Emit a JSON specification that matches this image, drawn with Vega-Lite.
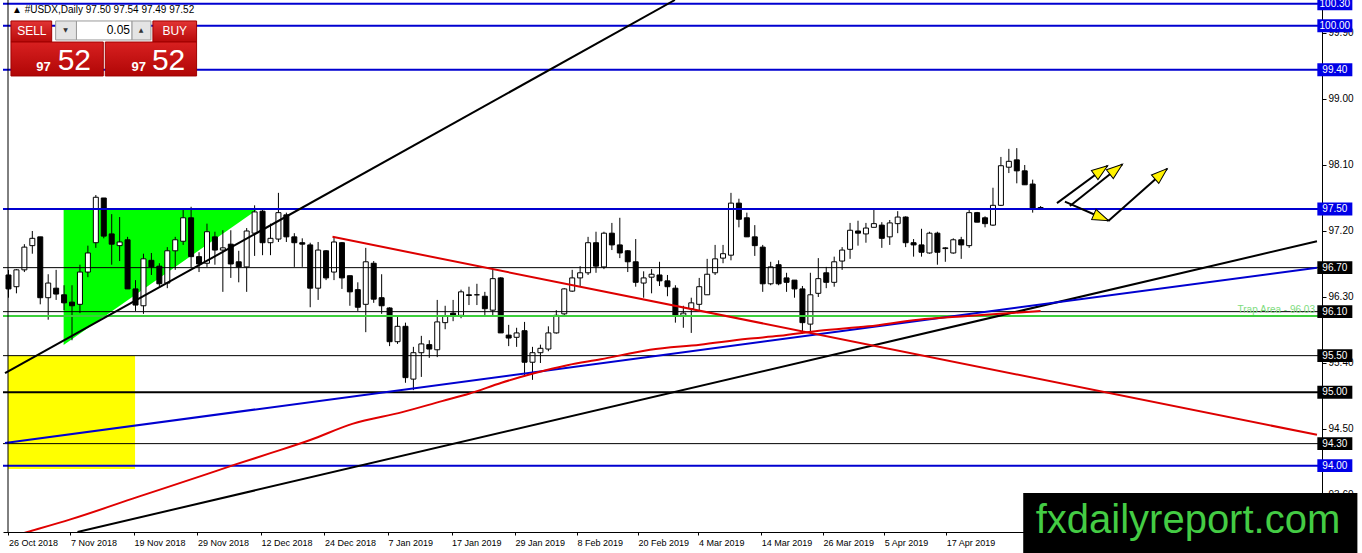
{
"$schema": "https://vega.github.io/schema/vega-lite/v6.json",
"width": 1319,
"height": 532,
"autosize": {"type": "none"},
"padding": {"left": 3, "top": 0, "right": 40, "bottom": 21},
"background": "#ffffff",
"config": {"view": {"stroke": null}, "font": "Liberation Sans"},
"datasets": {
"candles": [
{"i":0,"o":96.60,"h":96.67,"l":96.29,"c":96.41},
{"i":1,"o":96.44,"h":96.68,"l":96.35,"c":96.67},
{"i":2,"o":96.67,"h":97.02,"l":96.64,"c":96.98},
{"i":3,"o":97.00,"h":97.20,"l":96.89,"c":97.10},
{"i":4,"o":97.12,"h":97.12,"l":96.20,"c":96.29},
{"i":5,"o":96.29,"h":96.61,"l":95.99,"c":96.49},
{"i":6,"o":96.42,"h":96.67,"l":96.26,"c":96.34},
{"i":7,"o":96.33,"h":96.46,"l":96.12,"c":96.22},
{"i":8,"o":96.23,"h":96.46,"l":95.71,"c":96.18},
{"i":9,"o":96.20,"h":96.74,"l":96.08,"c":96.64},
{"i":10,"o":96.64,"h":97.00,"l":96.57,"c":96.90},
{"i":11,"o":97.04,"h":97.69,"l":96.97,"c":97.66},
{"i":12,"o":97.65,"h":97.65,"l":97.10,"c":97.13},
{"i":13,"o":97.16,"h":97.43,"l":96.74,"c":97.02},
{"i":14,"o":97.00,"h":97.39,"l":96.79,"c":97.05},
{"i":15,"o":97.08,"h":97.12,"l":96.41,"c":96.41},
{"i":16,"o":96.41,"h":96.53,"l":96.11,"c":96.19},
{"i":17,"o":96.18,"h":96.89,"l":96.07,"c":96.82},
{"i":18,"o":96.80,"h":96.90,"l":96.60,"c":96.71},
{"i":19,"o":96.72,"h":96.76,"l":96.44,"c":96.48},
{"i":20,"o":96.49,"h":96.98,"l":96.42,"c":96.93},
{"i":21,"o":96.93,"h":97.12,"l":96.67,"c":97.08},
{"i":22,"o":97.06,"h":97.50,"l":97.01,"c":97.38},
{"i":23,"o":97.38,"h":97.53,"l":96.70,"c":96.85},
{"i":24,"o":96.85,"h":96.91,"l":96.64,"c":96.75},
{"i":25,"o":96.76,"h":97.30,"l":96.71,"c":97.19},
{"i":26,"o":97.12,"h":97.19,"l":96.74,"c":96.94},
{"i":27,"o":96.94,"h":97.21,"l":96.37,"c":96.97},
{"i":28,"o":97.02,"h":97.21,"l":96.56,"c":96.75},
{"i":29,"o":96.78,"h":96.93,"l":96.50,"c":96.71},
{"i":30,"o":96.71,"h":97.24,"l":96.37,"c":97.20},
{"i":31,"o":97.17,"h":97.55,"l":96.86,"c":97.46},
{"i":32,"o":97.47,"h":97.51,"l":96.87,"c":97.04},
{"i":33,"o":97.04,"h":97.30,"l":96.87,"c":97.10},
{"i":34,"o":97.09,"h":97.72,"l":97.05,"c":97.45},
{"i":35,"o":97.42,"h":97.45,"l":97.05,"c":97.12},
{"i":36,"o":97.12,"h":97.17,"l":96.71,"c":97.04},
{"i":37,"o":97.04,"h":97.10,"l":96.71,"c":97.02},
{"i":38,"o":97.01,"h":97.04,"l":96.16,"c":96.42},
{"i":39,"o":96.42,"h":97.05,"l":96.26,"c":96.94},
{"i":40,"o":96.93,"h":96.94,"l":96.53,"c":96.56},
{"i":41,"o":96.64,"h":97.12,"l":96.53,"c":97.05},
{"i":42,"o":97.04,"h":97.05,"l":96.41,"c":96.56},
{"i":43,"o":96.59,"h":96.59,"l":96.18,"c":96.37},
{"i":44,"o":96.40,"h":96.50,"l":96.11,"c":96.16},
{"i":45,"o":96.20,"h":96.97,"l":95.82,"c":96.78},
{"i":46,"o":96.76,"h":96.79,"l":96.22,"c":96.27},
{"i":47,"o":96.29,"h":96.61,"l":96.07,"c":96.18},
{"i":48,"o":96.15,"h":96.16,"l":95.63,"c":95.69},
{"i":49,"o":95.69,"h":96.03,"l":95.66,"c":95.90},
{"i":50,"o":95.90,"h":95.95,"l":95.13,"c":95.20},
{"i":51,"o":95.18,"h":95.62,"l":95.03,"c":95.54},
{"i":52,"o":95.54,"h":95.77,"l":95.21,"c":95.66},
{"i":53,"o":95.65,"h":95.71,"l":95.47,"c":95.59},
{"i":54,"o":95.58,"h":96.26,"l":95.48,"c":95.96},
{"i":55,"o":95.95,"h":96.18,"l":95.86,"c":96.04},
{"i":56,"o":96.08,"h":96.26,"l":95.97,"c":96.05},
{"i":57,"o":96.05,"h":96.40,"l":96.01,"c":96.37},
{"i":58,"o":96.33,"h":96.44,"l":96.19,"c":96.32},
{"i":59,"o":96.33,"h":96.48,"l":96.19,"c":96.33},
{"i":60,"o":96.31,"h":96.37,"l":96.05,"c":96.14},
{"i":61,"o":96.12,"h":96.68,"l":96.05,"c":96.55},
{"i":62,"o":96.56,"h":96.57,"l":95.81,"c":95.81},
{"i":63,"o":95.78,"h":95.92,"l":95.63,"c":95.74},
{"i":64,"o":95.75,"h":95.88,"l":95.62,"c":95.81},
{"i":65,"o":95.84,"h":95.96,"l":95.21,"c":95.41},
{"i":66,"o":95.41,"h":95.62,"l":95.17,"c":95.54},
{"i":67,"o":95.54,"h":95.65,"l":95.40,"c":95.60},
{"i":68,"o":95.59,"h":95.90,"l":95.56,"c":95.81},
{"i":69,"o":95.81,"h":96.12,"l":95.80,"c":96.05},
{"i":70,"o":96.07,"h":96.42,"l":96.05,"c":96.41},
{"i":71,"o":96.38,"h":96.67,"l":96.37,"c":96.56},
{"i":72,"o":96.56,"h":96.72,"l":96.45,"c":96.63},
{"i":73,"o":96.63,"h":97.12,"l":96.60,"c":97.04},
{"i":74,"o":97.04,"h":97.19,"l":96.63,"c":96.72},
{"i":75,"o":96.71,"h":97.19,"l":96.68,"c":97.17},
{"i":76,"o":97.17,"h":97.31,"l":96.94,"c":97.01},
{"i":77,"o":97.01,"h":97.38,"l":96.83,"c":96.90},
{"i":78,"o":96.93,"h":96.94,"l":96.64,"c":96.78},
{"i":79,"o":96.78,"h":97.09,"l":96.44,"c":96.50},
{"i":80,"o":96.49,"h":96.65,"l":96.29,"c":96.56},
{"i":81,"o":96.57,"h":96.68,"l":96.35,"c":96.61},
{"i":82,"o":96.60,"h":96.78,"l":96.45,"c":96.52},
{"i":83,"o":96.52,"h":96.60,"l":96.31,"c":96.44},
{"i":84,"o":96.42,"h":96.46,"l":95.95,"c":96.05},
{"i":85,"o":96.05,"h":96.18,"l":95.88,"c":96.08},
{"i":86,"o":96.14,"h":96.29,"l":95.81,"c":96.22},
{"i":87,"o":96.20,"h":96.56,"l":96.11,"c":96.44},
{"i":88,"o":96.33,"h":96.82,"l":96.33,"c":96.61},
{"i":89,"o":96.63,"h":97.01,"l":96.60,"c":96.82},
{"i":90,"o":96.83,"h":97.01,"l":96.76,"c":96.89},
{"i":91,"o":96.87,"h":97.72,"l":96.80,"c":97.58},
{"i":92,"o":97.58,"h":97.64,"l":97.25,"c":97.36},
{"i":93,"o":97.38,"h":97.45,"l":97.12,"c":97.12},
{"i":94,"o":97.12,"h":97.28,"l":96.86,"c":97.00},
{"i":95,"o":96.98,"h":97.01,"l":96.37,"c":96.48},
{"i":96,"o":96.48,"h":96.78,"l":96.46,"c":96.71},
{"i":97,"o":96.74,"h":96.80,"l":96.46,"c":96.48},
{"i":98,"o":96.56,"h":96.63,"l":96.37,"c":96.50},
{"i":99,"o":96.53,"h":96.53,"l":96.29,"c":96.41},
{"i":100,"o":96.41,"h":96.45,"l":95.80,"c":95.95},
{"i":101,"o":95.93,"h":96.63,"l":95.81,"c":96.33},
{"i":102,"o":96.35,"h":96.83,"l":96.30,"c":96.55},
{"i":103,"o":96.63,"h":96.71,"l":96.42,"c":96.50},
{"i":104,"o":96.50,"h":96.85,"l":96.44,"c":96.78},
{"i":105,"o":96.79,"h":96.98,"l":96.67,"c":96.94},
{"i":106,"o":96.95,"h":97.31,"l":96.82,"c":97.21},
{"i":107,"o":97.20,"h":97.34,"l":97.00,"c":97.17},
{"i":108,"o":97.16,"h":97.31,"l":97.04,"c":97.24},
{"i":109,"o":97.25,"h":97.51,"l":97.25,"c":97.30},
{"i":110,"o":97.28,"h":97.32,"l":96.97,"c":97.10},
{"i":111,"o":97.12,"h":97.35,"l":97.01,"c":97.31},
{"i":112,"o":97.30,"h":97.47,"l":97.17,"c":97.39},
{"i":113,"o":97.39,"h":97.40,"l":96.98,"c":97.04},
{"i":114,"o":97.04,"h":97.09,"l":96.85,"c":97.01},
{"i":115,"o":97.01,"h":97.23,"l":96.85,"c":96.91},
{"i":116,"o":96.90,"h":97.19,"l":96.89,"c":97.17},
{"i":117,"o":97.17,"h":97.19,"l":96.74,"c":96.91},
{"i":118,"o":96.96,"h":96.98,"l":96.78,"c":96.97},
{"i":119,"o":96.90,"h":97.10,"l":96.89,"c":97.08},
{"i":120,"o":97.08,"h":97.12,"l":96.82,"c":97.01},
{"i":121,"o":97.00,"h":97.49,"l":96.97,"c":97.45},
{"i":122,"o":97.45,"h":97.46,"l":97.32,"c":97.32},
{"i":123,"o":97.38,"h":97.40,"l":97.25,"c":97.30},
{"i":124,"o":97.28,"h":97.79,"l":97.27,"c":97.55},
{"i":125,"o":97.55,"h":98.21,"l":97.54,"c":98.09},
{"i":126,"o":98.07,"h":98.32,"l":97.99,"c":98.15},
{"i":127,"o":98.17,"h":98.33,"l":97.85,"c":98.02},
{"i":128,"o":98.02,"h":98.10,"l":97.83,"c":97.83},
{"i":129,"o":97.84,"h":97.90,"l":97.45,"c":97.51},
{"i":130,"o":97.50,"h":97.54,"l":97.49,"c":97.52}
],
"levels": [
{"p":100.30,"k":"blue"},{"p":100.00,"k":"blue"},{"p":99.40,"k":"blue"},{"p":97.50,"k":"blue"},
{"p":96.70,"k":"black"},{"p":96.10,"k":"black"},{"p":95.50,"k":"black"},{"p":95.00,"k":"black2"},
{"p":94.30,"k":"black"},{"p":94.00,"k":"blue"},{"p":96.04,"k":"green"}
],
"trends": [
{"x1":-0.44,"y1":95.26,"x2":83.94,"y2":100.35,"k":"black2"},
{"x1":8.69,"y1":93.095,"x2":164.81,"y2":97.06,"k":"black2"},
{"x1":-0.44,"y1":94.31,"x2":164.81,"y2":96.70,"k":"blue"},
{"x1":40.81,"y1":97.12,"x2":164.81,"y2":94.42,"k":"red"}
],
"ma": [
{"i":0,"p":93.02},{"i":2.4,"p":93.095},{"i":7.9,"p":93.27},{"i":16.2,"p":93.57},{"i":24.6,"p":93.87},
{"i":28.7,"p":94.02},{"i":33,"p":94.17},{"i":38,"p":94.35},{"i":43.3,"p":94.57},{"i":49.6,"p":94.73},
{"i":54.6,"p":94.88},{"i":58,"p":94.98},{"i":62.1,"p":95.13},{"i":66.2,"p":95.26},{"i":70.4,"p":95.37},
{"i":74.6,"p":95.45},{"i":80.8,"p":95.58},{"i":87.1,"p":95.65},{"i":93.1,"p":95.73},{"i":97.1,"p":95.77},
{"i":102.1,"p":95.84},{"i":108.3,"p":95.90},{"i":114.6,"p":95.99},{"i":120.8,"p":96.04},{"i":130,"p":96.11}
],
"arrows": [
{"n":"A","x1":132.06,"y1":97.58,"x2":138.44,"y2":98.09},
{"n":"B","x1":133.69,"y1":97.54,"x2":140.31,"y2":98.11},
{"n":"C","x1":133.06,"y1":97.60,"x2":138.56,"y2":97.34},
{"n":"D","x1":138.56,"y1":97.34,"x2":145.94,"y2":98.05}
],
"triangle": [
{"i":6.94,"t":97.50,"b":95.645},
{"i":31.44,"t":97.50,"b":97.50}
]
},
"layer": [
{
"data": {"name": "candles"},
"mark": {"type": "rule", "color": "#000000", "strokeWidth": 1, "clip": true, "opacity": 0},
"encoding": {
"x": {"field": "i", "type": "quantitative", "scale": {"domain": [-0.0625, 164.8125], "nice": false, "zero": false},
"axis": {"orient": "bottom", "title": null, "grid": false,
"values": [0, 7.8, 15.8, 23.8, 31.8, 39.8, 47.8, 55.8, 63.8, 71.6, 79.3, 86.9, 94.8, 102.6, 110.3, 118.1],
"labelExpr": "datum.value < 4 ? '26 Oct 2018' : datum.value < 12 ? '7 Nov 2018' : datum.value < 20 ? '19 Nov 2018' : datum.value < 28 ? '29 Nov 2018' : datum.value < 36 ? '12 Dec 2018' : datum.value < 44 ? '24 Dec 2018' : datum.value < 52 ? '7 Jan 2019' : datum.value < 60 ? '17 Jan 2019' : datum.value < 68 ? '29 Jan 2019' : datum.value < 76 ? '8 Feb 2019' : datum.value < 83 ? '20 Feb 2019' : datum.value < 91 ? '4 Mar 2019' : datum.value < 99 ? '14 Mar 2019' : datum.value < 106 ? '26 Mar 2019' : datum.value < 114 ? '5 Apr 2019' : '17 Apr 2019'",
"domainColor": "#000000", "tickColor": "#000000", "tickSize": 3, "labelAlign": "left", "labelPadding": 3,
"labelFont": "Liberation Sans", "labelFontSize": 9, "labelColor": "#000000", "labelFlush": false, "labelOverlap": false}},
"y": {"field": "l", "type": "quantitative", "scale": {"domain": [93.095, 100.35], "nice": false, "zero": false},
"axis": {"orient": "right", "title": null, "grid": false,
"values": [99.90, 99.45, 99.00, 98.55, 98.10, 97.65, 97.20, 96.75, 96.30, 95.85, 95.40, 94.95, 94.50, 94.05, 93.60],
"format": ".2f", "domainColor": "#000000", "tickColor": "#000000", "tickSize": 4, "labelPadding": 2,
"labelFont": "Liberation Sans", "labelFontSize": 10, "labelColor": "#000000", "labelFlush": false, "labelOverlap": false}},
"y2": {"field": "h"}
}
},
{
"data": {"values": [{}]},
"mark": {"type": "rect", "fill": "#FFFF00"},
"encoding": {
"x": {"datum": -0.0625, "type": "quantitative"},
"x2": {"datum": 15.94},
"y": {"datum": 95.50, "type": "quantitative"},
"y2": {"datum": 93.954}
}
},
{
"data": {"name": "triangle"},
"mark": {"type": "area", "fill": "#00FF00", "opacity": 1},
"encoding": {
"x": {"field": "i", "type": "quantitative"},
"y": {"field": "t", "type": "quantitative"},
"y2": {"field": "b"}
}
},
{
"data": {"name": "candles"},
"mark": {"type": "rule", "color": "#000000", "strokeWidth": 1, "clip": true},
"encoding": {
"x": {"field": "i", "type": "quantitative"},
"y": {"field": "l", "type": "quantitative"},
"y2": {"field": "h"}
}
},
{
"data": {"name": "candles"},
"mark": {"type": "bar", "orient": "vertical", "size": 5, "stroke": "#000000", "strokeWidth": 1, "clip": true},
"encoding": {
"x": {"field": "i", "type": "quantitative"},
"y": {"field": "o", "type": "quantitative"},
"y2": {"field": "c"},
"fill": {"condition": {"test": "datum.c >= datum.o", "value": "#ffffff"}, "value": "#000000"}
}
},
{
"data": {"name": "levels"},
"mark": {"type": "rule"},
"encoding": {
"y": {"field": "p", "type": "quantitative"},
"color": {"field": "k", "type": "nominal", "legend": null, "scale": {"domain": ["blue", "black", "black2", "green", "red"], "range": ["#0000D0", "#000000", "#000000", "#3CCF3C", "#DD0000"]}},
"strokeWidth": {"condition": {"test": "datum.k == 'black'", "value": 1}, "value": 2}
}
},
{
"data": {"name": "trends"},
"mark": {"type": "rule", "clip": true, "strokeWidth": 2},
"encoding": {
"x": {"field": "x1", "type": "quantitative"},
"x2": {"field": "x2"},
"y": {"field": "y1", "type": "quantitative"},
"y2": {"field": "y2"},
"color": {"field": "k", "type": "nominal", "legend": null, "scale": {"domain": ["blue", "black", "black2", "green", "red"], "range": ["#0000D0", "#000000", "#000000", "#3CCF3C", "#DD0000"]}}
}
},
{
"data": {"name": "ma"},
"mark": {"type": "line", "color": "#E00000", "strokeWidth": 2, "clip": true, "interpolate": "monotone"},
"encoding": {
"x": {"field": "i", "type": "quantitative"},
"y": {"field": "p", "type": "quantitative"}
}
},
{
"data": {"values": [{}]},
"mark": {"type": "rule", "color": "#000000", "strokeWidth": 1},
"encoding": {
"x": {"datum": -0.0625, "type": "quantitative"}
}
},
{
"data": {"name": "arrows"},
"mark": {"type": "rule", "color": "#000000", "strokeWidth": 2},
"encoding": {
"x": {"field": "x1", "type": "quantitative"},
"x2": {"field": "x2"},
"y": {"field": "y1", "type": "quantitative"},
"y2": {"field": "y2"}
}
},
{
"data": {"name": "arrows"},
"transform": [{"filter": "datum.n == 'A'"}],
"mark": {"type": "point", "shape": "M0,0L-0.35,1L0.35,1Z", "size": 1024, "filled": true, "fill": "#FFF200", "stroke": "#000000", "strokeWidth": 1, "opacity": 1, "angle": 54},
"encoding": {
"x": {"field": "x2", "type": "quantitative"},
"y": {"field": "y2", "type": "quantitative"}
}
},
{
"data": {"name": "arrows"},
"transform": [{"filter": "datum.n == 'B'"}],
"mark": {"type": "point", "shape": "M0,0L-0.35,1L0.35,1Z", "size": 1024, "filled": true, "fill": "#FFF200", "stroke": "#000000", "strokeWidth": 1, "opacity": 1, "angle": 52},
"encoding": {
"x": {"field": "x2", "type": "quantitative"},
"y": {"field": "y2", "type": "quantitative"}
}
},
{
"data": {"name": "arrows"},
"transform": [{"filter": "datum.n == 'C'"}],
"mark": {"type": "point", "shape": "M0,0L-0.35,1L0.35,1Z", "size": 1024, "filled": true, "fill": "#FFF200", "stroke": "#000000", "strokeWidth": 1, "opacity": 1, "angle": 113},
"encoding": {
"x": {"field": "x2", "type": "quantitative"},
"y": {"field": "y2", "type": "quantitative"}
}
},
{
"data": {"name": "arrows"},
"transform": [{"filter": "datum.n == 'D'"}],
"mark": {"type": "point", "shape": "M0,0L-0.35,1L0.35,1Z", "size": 1024, "filled": true, "fill": "#FFF200", "stroke": "#000000", "strokeWidth": 1, "opacity": 1, "angle": 49},
"encoding": {
"x": {"field": "x2", "type": "quantitative"},
"y": {"field": "y2", "type": "quantitative"}
}
},
{
"data": {"name": "levels"},
"transform": [{"filter": "datum.k != 'green'"}],
"mark": {"type": "point", "shape": "M-1,-0.37H1V0.37H-1Z", "size": 1225, "filled": true, "opacity": 1, "strokeWidth": 0},
"encoding": {
"x": {"datum": 167.06, "type": "quantitative"},
"y": {"field": "p", "type": "quantitative"},
"fill": {"field": "k", "type": "nominal", "legend": null, "scale": {"domain": ["blue", "black", "black2"], "range": ["#0000E6", "#000000", "#000000"]}}
}
},
{
"data": {"name": "levels"},
"transform": [{"filter": "datum.k != 'green'"}],
"mark": {"type": "text", "color": "#ffffff", "fontSize": 10, "align": "center", "baseline": "middle", "font": "Liberation Sans"},
"encoding": {
"x": {"datum": 167.06, "type": "quantitative"},
"y": {"field": "p", "type": "quantitative"},
"text": {"field": "p", "type": "quantitative", "format": ".2f"}
}
},
{
"data": {"values": [{}]},
"mark": {"type": "text", "text": "Trap Area - 96.03", "color": "#7EDC7E", "fontSize": 10, "align": "right", "baseline": "middle", "font": "Liberation Sans"},
"encoding": {
"x": {"datum": 164.56, "type": "quantitative"},
"y": {"datum": 96.12, "type": "quantitative"}
}
},
{
"data": {"values": [{}]},
"mark": {"type": "text", "text": "▲ #USDX,Daily  97.50 97.54 97.49 97.52", "color": "#000000", "fontSize": 10, "align": "left", "baseline": "middle", "font": "Liberation Sans"},
"encoding": {
"x": {"datum": 0.44, "type": "quantitative"},
"y": {"datum": 100.214, "type": "quantitative"}
}
},
{
"data": {"values": [{}]},
"mark": {"type": "rect", "fill": {"gradient": "linear", "x1": 0, "y1": 0, "x2": 0, "y2": 1, "stops": [{"offset": 0, "color": "#E23434"}, {"offset": 1, "color": "#B80A0A"}]}, "stroke": "#A00000", "strokeWidth": 1},
"encoding": {
"x": {"datum": 0.31, "type": "quantitative"},
"x2": {"datum": 5.44},
"y": {"datum": 100.064, "type": "quantitative"},
"y2": {"datum": 99.777}
}
},
{
"data": {"values": [{}]},
"mark": {"type": "rect", "fill": {"gradient": "linear", "x1": 0, "y1": 0, "x2": 0, "y2": 1, "stops": [{"offset": 0, "color": "#E23434"}, {"offset": 1, "color": "#B80A0A"}]}, "stroke": "#A00000", "strokeWidth": 1},
"encoding": {
"x": {"datum": 18.19, "type": "quantitative"},
"x2": {"datum": 23.69},
"y": {"datum": 100.064, "type": "quantitative"},
"y2": {"datum": 99.777}
}
},
{
"data": {"values": [{}]},
"mark": {"type": "rect", "fill": {"gradient": "linear", "x1": 0, "y1": 0, "x2": 0, "y2": 1, "stops": [{"offset": 0, "color": "#D82020"}, {"offset": 1, "color": "#B00606"}]}, "stroke": "#A00000", "strokeWidth": 1},
"encoding": {
"x": {"datum": 0.31, "type": "quantitative"},
"x2": {"datum": 11.94},
"y": {"datum": 99.777, "type": "quantitative"},
"y2": {"datum": 99.314}
}
},
{
"data": {"values": [{}]},
"mark": {"type": "rect", "fill": {"gradient": "linear", "x1": 0, "y1": 0, "x2": 0, "y2": 1, "stops": [{"offset": 0, "color": "#D82020"}, {"offset": 1, "color": "#B00606"}]}, "stroke": "#A00000", "strokeWidth": 1},
"encoding": {
"x": {"datum": 12.19, "type": "quantitative"},
"x2": {"datum": 23.69},
"y": {"datum": 99.777, "type": "quantitative"},
"y2": {"datum": 99.314}
}
},
{
"data": {"values": [{}]},
"mark": {"type": "rect", "fill": "#E4E4E4", "stroke": "#9A9A9A", "strokeWidth": 1},
"encoding": {
"x": {"datum": 5.94, "type": "quantitative"},
"x2": {"datum": 8.56},
"y": {"datum": 100.064, "type": "quantitative"},
"y2": {"datum": 99.805}
}
},
{
"data": {"values": [{}]},
"mark": {"type": "rect", "fill": "#ffffff", "stroke": "#9A9A9A", "strokeWidth": 1},
"encoding": {
"x": {"datum": 8.56, "type": "quantitative"},
"x2": {"datum": 15.56},
"y": {"datum": 100.064, "type": "quantitative"},
"y2": {"datum": 99.805}
}
},
{
"data": {"values": [{}]},
"mark": {"type": "rect", "fill": "#E4E4E4", "stroke": "#9A9A9A", "strokeWidth": 1},
"encoding": {
"x": {"datum": 15.56, "type": "quantitative"},
"x2": {"datum": 17.94},
"y": {"datum": 100.064, "type": "quantitative"},
"y2": {"datum": 99.805}
}
},
{
"data": {"values": [{}]},
"mark": {"type": "text", "text": "SELL", "color": "#ffffff", "fontSize": 12, "align": "center", "baseline": "middle", "font": "Liberation Sans"},
"encoding": {
"x": {"datum": 2.94, "type": "quantitative"},
"y": {"datum": 99.927, "type": "quantitative"}
}
},
{
"data": {"values": [{}]},
"mark": {"type": "text", "text": "BUY", "color": "#ffffff", "fontSize": 12, "align": "center", "baseline": "middle", "font": "Liberation Sans"},
"encoding": {
"x": {"datum": 20.94, "type": "quantitative"},
"y": {"datum": 99.927, "type": "quantitative"}
}
},
{
"data": {"values": [{}]},
"mark": {"type": "text", "text": "0.05", "color": "#000000", "fontSize": 12, "align": "right", "baseline": "middle", "font": "Liberation Sans"},
"encoding": {
"x": {"datum": 15.31, "type": "quantitative"},
"y": {"datum": 99.94, "type": "quantitative"}
}
},
{
"data": {"values": [{}]},
"mark": {"type": "text", "text": "▼", "color": "#333333", "fontSize": 6, "align": "center", "baseline": "middle", "font": "DejaVu Sans"},
"encoding": {
"x": {"datum": 7.19, "type": "quantitative"},
"y": {"datum": 99.94, "type": "quantitative"}
}
},
{
"data": {"values": [{}]},
"mark": {"type": "text", "text": "▲", "color": "#333333", "fontSize": 6, "align": "center", "baseline": "middle", "font": "DejaVu Sans"},
"encoding": {
"x": {"datum": 16.69, "type": "quantitative"},
"y": {"datum": 99.94, "type": "quantitative"}
}
},
{
"data": {"values": [{}]},
"mark": {"type": "text", "text": "97", "color": "#ffffff", "fontSize": 13, "fontWeight": "bold", "align": "right", "baseline": "alphabetic", "font": "Liberation Sans"},
"encoding": {
"x": {"datum": 5.31, "type": "quantitative"},
"y": {"datum": 99.382, "type": "quantitative"}
}
},
{
"data": {"values": [{}]},
"mark": {"type": "text", "text": "52", "color": "#ffffff", "fontSize": 30, "align": "left", "baseline": "alphabetic", "font": "Liberation Sans"},
"encoding": {
"x": {"datum": 6.19, "type": "quantitative"},
"y": {"datum": 99.389, "type": "quantitative"}
}
},
{
"data": {"values": [{}]},
"mark": {"type": "text", "text": "97", "color": "#ffffff", "fontSize": 13, "fontWeight": "bold", "align": "right", "baseline": "alphabetic", "font": "Liberation Sans"},
"encoding": {
"x": {"datum": 17.31, "type": "quantitative"},
"y": {"datum": 99.382, "type": "quantitative"}
}
},
{
"data": {"values": [{}]},
"mark": {"type": "text", "text": "52", "color": "#ffffff", "fontSize": 30, "align": "left", "baseline": "alphabetic", "font": "Liberation Sans"},
"encoding": {
"x": {"datum": 18.06, "type": "quantitative"},
"y": {"datum": 99.389, "type": "quantitative"}
}
},
{
"data": {"values": [{}]},
"mark": {"type": "rect", "fill": "#000000"},
"encoding": {
"x": {"datum": 127.81, "type": "quantitative"},
"x2": {"datum": 169.9},
"y": {"datum": 93.627, "type": "quantitative"},
"y2": {"datum": 92.79}
}
},
{
"data": {"values": [{}]},
"mark": {"type": "text", "text": "fxdailyreport.com", "color": "#44CC44", "fontSize": 40, "align": "center", "baseline": "alphabetic", "font": "Liberation Sans"},
"encoding": {
"x": {"datum": 148.56, "type": "quantitative"},
"y": {"datum": 93.081, "type": "quantitative"}
}
}
]
}
